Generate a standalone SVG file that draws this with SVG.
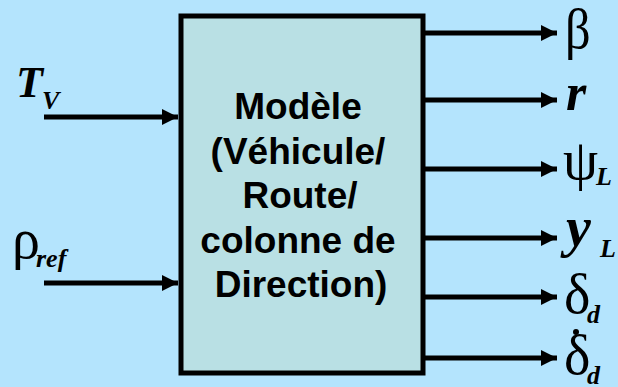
<svg xmlns="http://www.w3.org/2000/svg" width="618" height="387" viewBox="0 0 618 387">
  <defs>
    <marker id="arrow" viewBox="0 0 16 16" refX="16" refY="8" markerWidth="16" markerHeight="16" markerUnits="userSpaceOnUse" orient="auto">
      <path d="M0,0 L16,8 L0,16 Z" fill="#000"/>
    </marker>
    <style>
      .wire { stroke: #000; stroke-width: 5; fill: none; marker-end: url(#arrow); }
      .box { fill: #B9E0E4; stroke: #000; stroke-width: 5; }
      .title { font-family: "Liberation Sans", Arial, sans-serif; font-weight: bold; font-size: 37px; text-anchor: middle; fill: #000; }
      .sym { font-family: "Liberation Serif", "Times New Roman", serif; font-size: 56px; fill: #000; }
      .bi { font-family: "Liberation Serif", "Times New Roman", serif; font-style: italic; font-weight: bold; fill: #000; }
      .sub { font-size: 26px; }
    </style>
  </defs>
  <rect width="618" height="387" fill="#B4E4FD"/>

  <g id="model">
    <rect class="box" x="181" y="16" width="242" height="357"/>
    <text class="title" x="298" y="119">Modèle</text>
    <text class="title" x="298" y="164">(Véhicule/</text>
    <text class="title" x="300" y="208">Route/</text>
    <text class="title" x="298" y="253">colonne de</text>
    <text class="title" x="301" y="297">Direction)</text>
  </g>

  <g id="connectors">
    <line class="wire" x1="44" y1="117" x2="178" y2="117"/>
    <line class="wire" x1="44" y1="283" x2="178" y2="283"/>
    <line class="wire" x1="425" y1="33" x2="557" y2="33"/>
    <line class="wire" x1="425" y1="100" x2="557" y2="100"/>
    <line class="wire" x1="425" y1="169" x2="557" y2="169"/>
    <line class="wire" x1="425" y1="238" x2="557" y2="238"/>
    <line class="wire" x1="425" y1="297" x2="557" y2="297"/>
    <line class="wire" x1="425" y1="358" x2="557" y2="358"/>
  </g>

  <g id="in-tv">
    <text class="bi" x="16" y="97" font-size="44">T</text>
    <text class="bi sub" x="42" y="109">V</text>
  </g>
  <g id="in-rho">
    <text class="sym" x="12" y="258" font-size="46">ρ</text>
    <text class="bi sub" x="36" y="267">ref</text>
  </g>

  <g id="out-beta">
    <text class="sym" transform="translate(565 48) scale(0.9 1)" font-size="64">β</text>
  </g>
  <g id="out-r">
    <text class="bi" x="566" y="110" font-size="52">r</text>
  </g>
  <g id="out-psi">
    <text class="sym" x="563" y="179" font-size="60">ψ</text>
    <text class="bi sub" x="596" y="185">L</text>
  </g>
  <g id="out-y">
    <text class="bi" x="566" y="246" font-size="56">y</text>
    <text class="bi sub" x="600" y="257">L</text>
  </g>
  <g id="out-delta">
    <text class="sym" x="564" y="313" font-size="52">δ</text>
    <text class="bi sub" x="587" y="323">d</text>
  </g>
  <g id="out-delta-dot">
    <text class="sym" x="564" y="374" font-size="52">δ</text>
    <circle cx="576" cy="332" r="3" fill="#000"/>
    <text class="bi sub" x="587" y="384">d</text>
  </g>
</svg>
